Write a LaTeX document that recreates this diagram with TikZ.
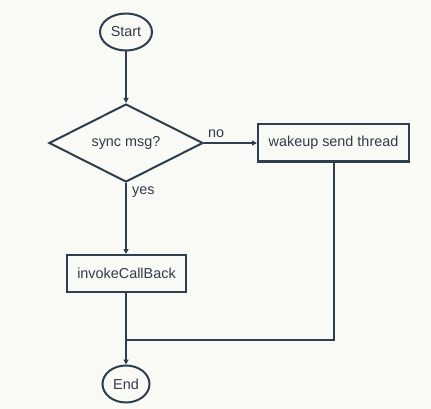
\documentclass[tikz,border=0pt]{standalone}
\usepackage{fontspec}
\setmainfont{Liberation Sans}
\usetikzlibrary{shapes.geometric,arrows.meta}
\definecolor{ln}{HTML}{2F3E4E}
\definecolor{tx}{HTML}{333B48}
\definecolor{bg}{HTML}{F9F9F6}
\begin{document}
\begin{tikzpicture}[x=1pt,y=-1pt,
  every node/.style={font=\fontsize{14.4}{17}\selectfont, text=tx},
  term/.style={draw=ln, line width=2pt, ellipse, inner sep=0pt},
  proc/.style={draw=ln, line width=2pt, rectangle, inner sep=0pt},
  dec/.style={draw=ln, line width=2pt, diamond, inner sep=0pt, aspect=2},
  conn/.style={draw=ln, line width=2pt},
  arr/.style={conn, -{Triangle[length=5pt,width=5pt]}},
  lbl/.style={inner sep=0pt}]
\fill[bg] (0,0) rectangle (431,409);
\useasboundingbox (0,0) rectangle (431,409);
\node[term, minimum width=52pt, minimum height=37pt] (start) at (126,32) {Start};
\node[dec, minimum width=154pt, minimum height=78pt] (dec) at (126,143) {sync msg?};
\node[proc, minimum width=151pt, minimum height=37pt] (wake) at (333.5,143) {wakeup send thread};
\node[proc, minimum width=119pt, minimum height=37pt] (inv) at (126.5,273.5) {invokeCallBack};
\node[term, minimum width=47pt, minimum height=37pt] (end) at (126,384) {End};
\coordinate (j) at (126,340);
\draw[arr] (start) -- (dec);
\draw[arr] (dec.east) -- (wake.west);
\draw[arr] (dec.south) -- (inv.north -| dec.south);
\draw[arr] (inv.south -| end.north) -- (end.north);
\draw[conn] (wake.south) |- (j);
\node[lbl, anchor=west] (no) at (208,134) {no};
\node[lbl, anchor=west] (yes) at (132,192) {yes};
\end{tikzpicture}
\end{document}
